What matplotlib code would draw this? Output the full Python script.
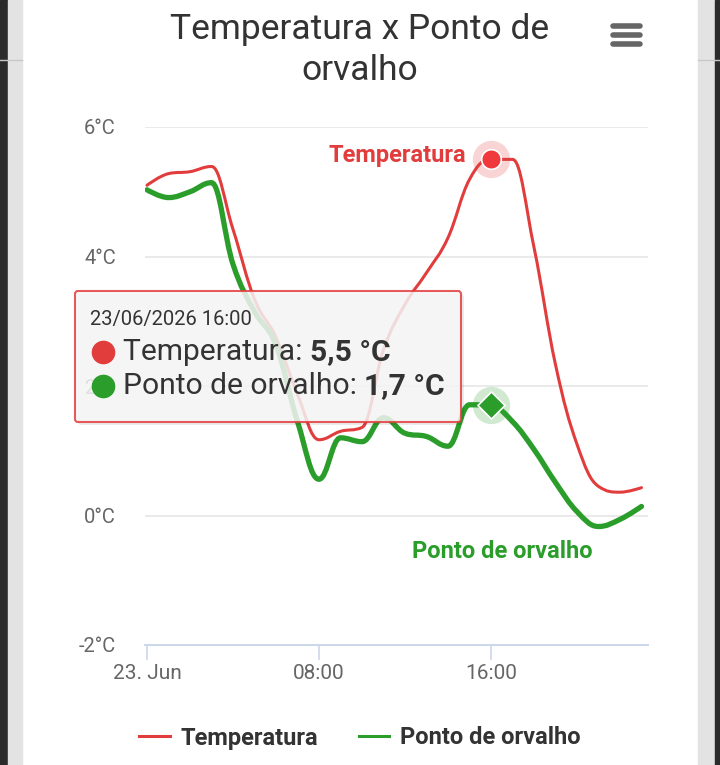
import numpy as np
import matplotlib
matplotlib.use("Agg")
import matplotlib.pyplot as plt
from matplotlib.path import Path
from matplotlib.patches import PathPatch, FancyBboxPatch, Rectangle
from matplotlib.lines import Line2D

# hourly readings, 23 Jun 2026 00:00 .. 23:00
hours = list(range(24))
temperatura = [5.10, 5.28, 5.31, 5.39, 4.42, 3.34, 2.75, 1.87, 1.17, 1.30, 1.36, 2.56,
               3.26, 3.75, 4.29, 5.19, 5.5, 5.5, 4.14, 2.33, 1.10, 0.45, 0.36, 0.43]
orvalho = [5.03, 4.91, 5.00, 5.14, 3.88, 3.15, 2.63, 1.45, 0.56, 1.20, 1.14, 1.51,
           1.27, 1.22, 1.07, 1.71, 1.7, 1.45, 1.02, 0.51, 0.06, -0.17, -0.06, 0.14]
yticks = [-2, 0, 2, 4, 6]
ytick_labels = ["-2°C", "0°C", "2°C", "4°C", "6°C"]
xticks = [0, 8, 16]
xtick_labels = ["23. Jun", "08:00", "16:00"]
hover_idx = 16
tooltip_date = "23/06/2026 16:00"

RED = "#e23d3d"
GREEN = "#2a9d2a"
W, H = 720, 765
FONT = "Roboto"


def fx(x):
    return x / W


def fy(y):
    return 1 - y / H


def spline_path(xs, ys, smoothing=1.5):
    # highcharts-like spline: cubic bezier with smoothed control points
    n = len(xs)
    verts = [(xs[0], ys[0])]
    codes = [Path.MOVETO]
    right = [None] * n
    left = [None] * n
    for i in range(n):
        px, py = xs[i], ys[i]
        if 0 < i < n - 1:
            lx, ly = xs[i - 1], ys[i - 1]
            nx, ny = xs[i + 1], ys[i + 1]
            d = smoothing + 1
            lcx = (smoothing * px + lx) / d
            lcy = (smoothing * py + ly) / d
            rcx = (smoothing * px + nx) / d
            rcy = (smoothing * py + ny) / d
            if rcx != lcx:
                corr = (rcy - lcy) * (rcx - px) / (rcx - lcx) + py - rcy
                lcy += corr
                rcy += corr
                if lcy > ly and lcy > py:
                    lcy = max(ly, py); rcy = 2 * py - lcy
                elif lcy < ly and lcy < py:
                    lcy = min(ly, py); rcy = 2 * py - lcy
                if rcy > ny and rcy > py:
                    rcy = max(ny, py); lcy = 2 * py - rcy
                elif rcy < ny and rcy < py:
                    rcy = min(ny, py); lcy = 2 * py - rcy
            left[i] = (lcx, lcy)
            right[i] = (rcx, rcy)
    for i in range(1, n):
        c1 = right[i - 1] if right[i - 1] else (xs[i - 1], ys[i - 1])
        c2 = left[i] if left[i] else (xs[i], ys[i])
        verts += [c1, c2, (xs[i], ys[i])]
        codes += [Path.CURVE4] * 3
    return Path(verts, codes)


fig = plt.figure(figsize=(7.2, 7.65), dpi=100)
fig.patch.set_facecolor("white")

# phone screenshot borders
fig.patches.append(Rectangle((0, 0), fx(8), 1, transform=fig.transFigure, color="#2b2b2b", zorder=0))
fig.patches.append(Rectangle((fx(8), 0), fx(14), 1, transform=fig.transFigure, color="#e3e3e3", zorder=0))
fig.patches.append(Rectangle((fx(698), 0), fx(17), 1, transform=fig.transFigure, color="#e3e3e3", zorder=0))
fig.patches.append(Rectangle((fx(715), 0), fx(5), 1, transform=fig.transFigure, color="#2b2b2b", zorder=0))
for x0, x1 in [(0, 22), (698, 720)]:
    fig.add_artist(Line2D([fx(x0), fx(x1)], [fy(60), fy(60)], color="#c8c8c8", lw=1))

ax = fig.add_axes([fx(145), fy(645), fx(648) - fx(145), fy(127) - fy(645)])
ax.set_facecolor("none")
ax.set_xlim(-2 / 21.5, (648 - 147) / 21.5)
ax.set_ylim(-2, 6)
for s in ["top", "right", "left"]:
    ax.spines[s].set_visible(False)
ax.spines["bottom"].set_color("#ccd6eb")
ax.spines["bottom"].set_linewidth(1.4)
ax.set_yticks(yticks)
ax.set_yticklabels(ytick_labels, fontfamily=FONT, fontsize=14.5, color="#666666")
ax.tick_params(axis="y", length=0, pad=21)
ax.set_xticks(xticks)
ax.set_xticklabels(xtick_labels, fontfamily=FONT, fontsize=15, color="#666666")
ax.tick_params(axis="x", length=11, width=1.2, color="#ccd6eb", pad=2.5)
for yv in yticks[1:]:
    ax.axhline(yv, color="#e6e6e6", lw=1.2, zorder=1)

ax.add_patch(PathPatch(spline_path(hours, temperatura), fill=False, edgecolor=RED,
                       lw=2.2, capstyle="round", joinstyle="round", zorder=3))
ax.add_patch(PathPatch(spline_path(hours, orvalho), fill=False, edgecolor=GREEN,
                       lw=3.8, capstyle="round", joinstyle="round", zorder=3))

# hover markers with halos
ax.scatter([hours[hover_idx]], [temperatura[hover_idx]], s=720, color=RED, alpha=0.22, lw=0, zorder=4, clip_on=False)
ax.scatter([hours[hover_idx]], [temperatura[hover_idx]], s=200, color="#f0393c", edgecolor="white", lw=1.2, zorder=5, clip_on=False)
ax.scatter([hours[hover_idx]], [orvalho[hover_idx]], s=720, color=GREEN, alpha=0.22, lw=0, zorder=4)
ax.scatter([hours[hover_idx]], [orvalho[hover_idx]], s=190, marker="D", color=GREEN, edgecolor="white", lw=1.2, zorder=5)

# series data labels
ax.annotate("Temperatura", (hours[hover_idx], temperatura[hover_idx]), xytext=(-18, 3),
            textcoords="offset points", ha="right", va="center", fontfamily=FONT,
            fontweight="bold", fontsize=17, color=RED, zorder=6)
ax.annotate("Ponto de orvalho", (hours[hover_idx], orvalho[hover_idx]), xytext=(-57, -105),
            textcoords="offset points", ha="left", va="center", fontfamily=FONT,
            fontweight="bold", fontsize=17, color=GREEN, zorder=6)

# title and menu icon
fig.text(0.5, fy(50), "Temperatura x Ponto de\norvalho", ha="center", va="center",
         fontfamily=FONT, fontsize=25.5, color="#333333", linespacing=1.32)
for yb in [26, 35, 44]:
    fig.add_artist(Line2D([fx(613), fx(640)], [fy(yb), fy(yb)], color="#666666",
                          lw=4, solid_capstyle="round"))

# tooltip
fig.patches.append(FancyBboxPatch((fx(78), fy(425)), fx(461 - 75), fy(291) - fy(422),
                                  boxstyle="round,pad=0,rounding_size=0.004",
                                  transform=fig.transFigure, facecolor="#000000",
                                  alpha=0.08, lw=0, zorder=7))
fig.patches.append(FancyBboxPatch((fx(75), fy(422)), fx(461 - 75), fy(291) - fy(422),
                                  boxstyle="round,pad=0,rounding_size=0.004",
                                  transform=fig.transFigure, facecolor="#f7f7f7",
                                  alpha=0.85, edgecolor=RED, lw=1.5, zorder=8))
fig.patches[-1].set_edgecolor(RED)
fig.text(fx(90), fy(319), tooltip_date, ha="left", va="center", fontfamily=FONT,
         fontsize=14.5, color="#333333", zorder=9)
renderer = fig.canvas.get_renderer()
rows = [("Temperatura: ", "%s °C" % str(temperatura[hover_idx]).replace(".", ","), RED, 352),
        ("Ponto de orvalho: ", "%s °C" % str(orvalho[hover_idx]).replace(".", ","), GREEN, 386)]
for name, val, col, yy in rows:
    fig.add_artist(Line2D([fx(103)], [fy(yy)], marker="o", markersize=16, color=col,
                          lw=0, zorder=9))
    t = fig.text(fx(123), fy(yy), name, ha="left", va="center", fontfamily=FONT,
                 fontsize=21.6, color="#333333", zorder=9)
    bb = t.get_window_extent(renderer)
    fig.text(bb.x1 / W, fy(yy), val, ha="left", va="center", fontfamily=FONT,
             fontsize=21.6, fontweight="bold", color="#333333", zorder=9)

# legend
handles = [Line2D([], [], color=RED, lw=2.2), Line2D([], [], color=GREEN, lw=2.2)]
fig.legend(handles, ["Temperatura", "Ponto de orvalho"], loc="center", ncol=2,
           bbox_to_anchor=(0.5, fy(738)), frameon=False, handlelength=1.3,
           columnspacing=1.7, handletextpad=0.47,
           prop={"family": FONT, "weight": "bold", "size": 17})
for txt in fig.legends[0].get_texts():
    txt.set_color("#333333")

fig.savefig("out.png", dpi=100)
